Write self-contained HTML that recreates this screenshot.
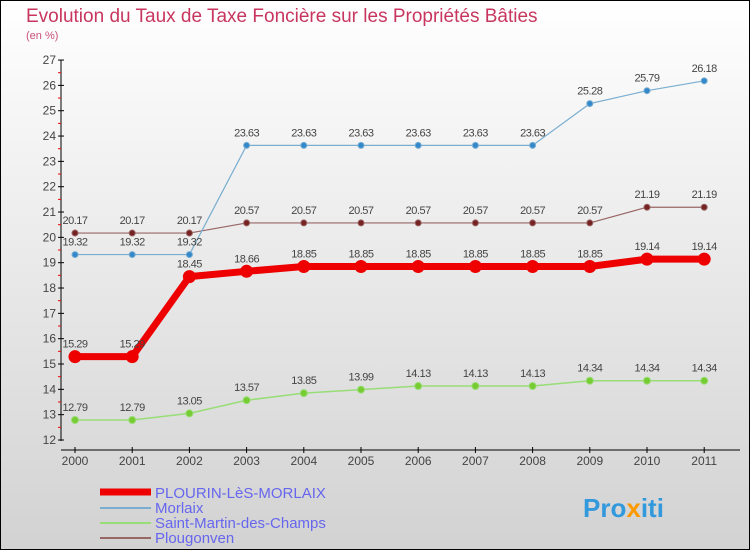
<!DOCTYPE html>
<html><head><meta charset="utf-8"><style>
body{margin:0;}
#c{width:750px;height:550px;position:relative;overflow:hidden;}
</style></head><body>
<div id="c">
<svg id="s" width="750" height="550" xmlns="http://www.w3.org/2000/svg" font-family="Liberation Sans, sans-serif">
<defs><linearGradient id="bg" x1="0" y1="0" x2="0" y2="1"><stop offset="0" stop-color="#ffffff"/><stop offset="1" stop-color="#d2d2d2"/></linearGradient></defs>
<rect x="0.5" y="0.5" width="749" height="549" fill="url(#bg)" stroke="#000"/>
<text x="26" y="22" font-size="19" fill="#c8365f">Evolution du Taux de Taxe Foncière sur les Propriétés Bâties</text>
<text x="26" y="39" font-size="11" fill="#c8507a">(en %)</text>
<g id="axes"></g><g id="series"></g>
<g>
<line x1="100" y1="492" x2="151" y2="492" stroke="#ee0000" stroke-width="7"/>
<text x="155" y="498" font-size="15" fill="#6666ee">PLOURIN-LèS-MORLAIX</text>
<line x1="100" y1="508" x2="151" y2="508" stroke="#7aaed0" stroke-width="2"/>
<text x="155" y="513" font-size="15" fill="#6666ee">Morlaix</text>
<line x1="100" y1="523" x2="151" y2="523" stroke="#99dd77" stroke-width="2"/>
<text x="155" y="528" font-size="15" fill="#6666ee">Saint-Martin-des-Champs</text>
<line x1="100" y1="538" x2="151" y2="538" stroke="#996666" stroke-width="2"/>
<text x="155" y="543" font-size="15" fill="#6666ee">Plougonven</text>
</g>
<text x="583" y="517" font-size="26" font-weight="bold" fill="#3399dd">Pro<tspan fill="#ff9900">x</tspan>iti</text>
</svg></div>
<script>
const years=["2000","2001","2002","2003","2004","2005","2006","2007","2008","2009","2010","2011"];
const yTicks=[12,13,14,15,16,17,18,19,20,21,22,23,24,25,26,27];
const plourin=[15.29,15.29,18.45,18.66,18.85,18.85,18.85,18.85,18.85,18.85,19.14,19.14];
const morlaix=[19.32,19.32,19.32,23.63,23.63,23.63,23.63,23.63,23.63,25.28,25.79,26.18];
const saintMartin=[12.79,12.79,13.05,13.57,13.85,13.99,14.13,14.13,14.13,14.34,14.34,14.34];
const plougonven=[20.17,20.17,20.17,20.57,20.57,20.57,20.57,20.57,20.57,20.57,21.19,21.19];
const NS="http://www.w3.org/2000/svg";
const X=i=>75+i*57.2;
const Y=v=>440-(v-12)*25.33;
function mk(t,a,p){const e=document.createElementNS(NS,t);for(const k in a)e.setAttribute(k,a[k]);p.appendChild(e);return e;}
const ax=document.getElementById('axes');
let e=mk('line',{x1:61,y1:60,x2:61,y2:441,stroke:'#000'},ax);


e=mk('line',{x1:61,y1:450,x2:740,y2:450,stroke:'#000'},ax);


yTicks.forEach((t,i)=>{
  const y=Y(t);
  mk('line',{x1:58,y1:y,x2:64,y2:y,stroke:'#000'},ax);
  if(i<yTicks.length-1)mk('line',{x1:58,y1:Y(t+0.5),x2:61,y2:Y(t+0.5),stroke:'#e00'},ax);
  const l=mk('text',{x:56,y:y+4,'font-size':12,'text-anchor':'end',fill:'#444'},ax);l.textContent=t;
  
  
});
years.forEach((yr,i)=>{
  mk('line',{x1:X(i),y1:447,x2:X(i),y2:453,stroke:'#000'},ax);
  const l=mk('text',{x:X(i),y:465,'font-size':12,'text-anchor':'middle',fill:'#444'},ax);l.textContent=yr;
  
  
});
const sg=document.getElementById('series');
function series(vals,color,dot,w,r,name){
  const g=mk('g',{},sg);
  
  
  mk('polyline',{points:vals.map((v,i)=>X(i)+','+Y(v)).join(' '),fill:'none',stroke:color,'stroke-width':w,'stroke-linejoin':'round'},g);
  vals.forEach((v,i)=>{
    const c=mk('circle',{cx:X(i),cy:Y(v),r:r,fill:dot,stroke:color,'stroke-width':1},g);
    
    
    const t=mk('text',{x:X(i),y:Y(v)-9,'font-size':11,'text-anchor':'middle',fill:'#444','letter-spacing':'-0.5'},g);
    t.textContent=v.toFixed(2).replace(/0$/,'');
    
    
  });
}
series(plougonven,'#996666','#772222',1.2,3,'series-plougonven');
series(morlaix,'#7aaed0','#3388cc',1.2,3,'series-morlaix');
series(saintMartin,'#99dd77','#77cc33',1.5,3.5,'series-saint-martin');
series(plourin,'#ee0000','#ee0000',7,6,'series-plourin');
</script>
</body></html>
